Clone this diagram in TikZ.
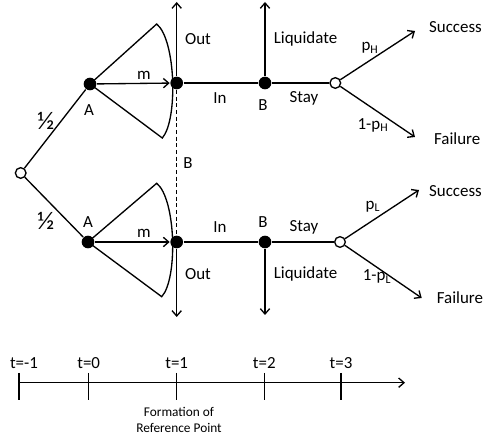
\documentclass[tikz,border=0pt]{standalone}
\usepackage{fontspec}
\setmainfont{Carlito}
\usetikzlibrary{arrows.meta}

\begin{document}
\begin{tikzpicture}[x=0.75pt, y=-0.75pt, line width=1pt,
    >={Straight Barb[length=4pt,width=7pt]},
    font=\fontsize{12.7}{15}\selectfont,
    dot/.style={circle, fill=black, inner sep=0pt, minimum size=9.5pt},
    chance/.style={circle, draw, fill=white, inner sep=0pt, minimum size=8pt},
    half/.style={font=\fontsize{19}{21}\selectfont}]
  \useasboundingbox (0,0) rectangle (483,441);

  % Zufallsknoten am Anfang
  \node[chance] (root) at (20.7,173) {};

  % obere Hälfte
  \node[dot] (Ahi) at (90,84) {};
  \node[dot] (Chi) at (176.7,83) {};
  \node[dot] (Bhi) at (265,83) {};
  \node[chance] (Nhi) at (335.3,83) {};
  \coordinate (outHi) at (176.7,2);
  \coordinate (liqHi) at (265,2);
  \coordinate (sucHi) at (415,31);
  \coordinate (failHi) at (415,137);

  % untere Hälfte
  \node[dot] (Alo) at (88,242) {};
  \node[dot] (Clo) at (176.7,242) {};
  \node[dot] (Blo) at (265,242) {};
  \node[chance] (Nlo) at (340,242) {};
  \coordinate (outLo) at (176.7,317);
  \coordinate (liqLo) at (265,315);
  \coordinate (sucLo) at (419,190);
  \coordinate (failLo) at (421.7,298);

  % Faecher
  \draw (Ahi.center) -- (156.7,24) .. controls (176,40) and (178,120) .. (162.3,138) -- (Ahi.center);
  \draw (Alo.center) -- (156.7,183.3) .. controls (176,199) and (178,279) .. (161.7,296.7) -- (Alo.center);

  % Kanten
  \draw (root) -- (Ahi);
  \draw (root) -- (Alo);
  \draw[->] (Ahi) -- (Chi);
  \draw[->] (Alo) -- (Clo);
  \draw[->] (Chi) -- (outHi);
  \draw[->] (Clo) -- (outLo);
  \draw[dash pattern=on 3pt off 2pt] (Chi) -- (Clo);
  \draw (Chi) -- (Bhi) -- (Nhi);
  \draw (Clo) -- (Blo) -- (Nlo);
  \draw[->] (Bhi) -- (liqHi);
  \draw[->] (Blo) -- (liqLo);
  \draw[->] (Nhi) -- (sucHi);
  \draw[->] (Nhi) -- (failHi);
  \draw[->] (Nlo) -- (sucLo);
  \draw[->] (Nlo) -- (failLo);

  % Beschriftungen oben
  \node[half] at (46,121) {½};
  \node at (89,110) {A};
  \node at (144,75) {m};
  \node at (198,39) {Out};
  \node at (220,98) {In};
  \node at (263,105) {B};
  \node at (305.5,39) {Liquidate};
  \node at (304,98) {Stay};
  \node at (370,48) {p\textsubscript{H}};
  \node at (373,125) {1-p\textsubscript{H}};
  \node[anchor=west] at (424,27) {Success};
  \node[anchor=west] at (429,139) {Failure};

  \node at (188,163) {B};

  % Beschriftungen unten
  \node[half] at (46,221) {½};
  \node at (88,221.7) {A};
  \node at (144,233) {m};
  \node at (198,274) {Out};
  \node at (220,227) {In};
  \node at (263,221.7) {B};
  \node at (305.5,274) {Liquidate};
  \node at (304,227) {Stay};
  \node at (373,206.7) {p\textsubscript{L}};
  \node at (377,276.7) {1-p\textsubscript{L}};
  \node[anchor=west] at (424,191) {Success};
  \node[anchor=west] at (431.7,298) {Failure};

  % Zeitachse
  \coordinate (tStart) at (19,382.7);
  \coordinate (tEnd) at (405,382.7);
  \draw[->] (tStart) -- (tEnd);
  \foreach \x/\lx/\t in {19/24/-1, 88.7/88.7/0, 176.7/176.7/1, 264.3/264.3/2, 341/341/3} {
    \draw (\x,373) -- (\x,400);
    \node at (\lx,362.7) {t=\t};
  }
  \node[align=center, font=\fontsize{10}{11.5}\selectfont] (refpt) at (179,420) {Formation of\\Reference Point};
\end{tikzpicture}
\end{document}
